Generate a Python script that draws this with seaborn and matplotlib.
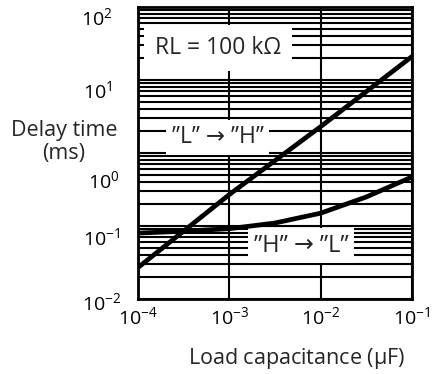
import numpy as np
import pandas as pd
import matplotlib
matplotlib.use("Agg")
import matplotlib.pyplot as plt
import matplotlib.transforms as mtransforms
import seaborn as sns
from matplotlib.ticker import LogLocator, NullFormatter

# Data
cap_lh = [1e-4, 1e-3, 1e-2, 1e-1]
delay_lh = [0.027, 0.27, 2.3, 21.0]
cap_hl = [1e-4, 3.16e-4, 1e-3, 3.16e-3, 1e-2, 3.16e-2, 1e-1]
delay_hl = [0.08, 0.085, 0.092, 0.11, 0.15, 0.25, 0.47]

x_ticks = [1e-4, 1e-3, 1e-2, 1e-1]
y_ticks = [1e-2, 1e-1, 1e0, 1e1, 1e2]

sns.set_style("white")
plt.rcParams['font.family'] = ['Open Sans', 'DejaVu Sans']
plt.rcParams['mathtext.default'] = 'regular'

df = pd.concat([
    pd.DataFrame({"cap": cap_lh, "delay": delay_lh, "dir": "LH"}),
    pd.DataFrame({"cap": cap_hl, "delay": delay_hl, "dir": "HL"}),
])

fig = plt.figure(figsize=(4.41, 3.74), dpi=100)
ax = fig.add_axes([0.313, 0.2005, 0.621, 0.7805])
ax.set_xscale("log")
ax.set_yscale("log")
sns.lineplot(data=df, x="cap", y="delay", units="dir", estimator=None,
             color="black", linewidth=3.4, ax=ax, zorder=4, legend=False)

ax.set_xlim(1e-4, 1e-1)
ax.set_ylim(1e-2, 1e2)
ax.set_xticks(x_ticks)
ax.set_yticks(y_ticks)
ax.yaxis.set_minor_locator(LogLocator(base=10, subs=np.arange(2, 10)))
ax.yaxis.set_minor_formatter(NullFormatter())
ax.xaxis.set_minor_locator(plt.NullLocator())
ax.tick_params(axis='both', which='both', length=0, labelsize=14, colors='black')
ax.tick_params(axis='x', pad=5)
ax.tick_params(axis='y', pad=13)

# y tick labels sit slightly below their grid lines in the reference
dy_px = [2, 10, 26, 9, 9]   # for 1e-2, 1e-1, 1e0, 1e1, 1e2
dx_px = [1, 0, 0, -8, -8]
for tick, dy, dx in zip(ax.yaxis.get_major_ticks(), dy_px, dx_px):
    off = mtransforms.ScaledTranslation(dx / 100, -dy / 100, fig.dpi_scale_trans)
    tick.label1.set_transform(tick.label1.get_transform() + off)

ax.set_axisbelow(True)
ax.grid(True, which='major', axis='x', color='black', linewidth=1.5)
ax.grid(True, which='both', axis='y', color='black', linewidth=1.5)
for s in ax.spines.values():
    s.set_visible(True)
    s.set_color('black')
    s.set_linewidth(2)

ax.set_xlabel("Load capacitance ($\\mu$F)", fontsize=15.5, labelpad=11)
ax.xaxis.set_label_coords(0.58, -0.16)
ax.set_ylabel("")
fig.text(0.145, 0.62, "Delay time\n(ms)", ha='center', va='center',
         fontsize=15.5, linespacing=1.15)

bb = dict(facecolor='white', edgecolor='none', pad=4)
ax.text(10**-3.12, 10**1.44, "RL = 100 kΩ", ha='center', va='center',
        fontsize=16.5, bbox=dict(facecolor='white', edgecolor='none', pad=8), zorder=3)
ax.text(10**-3.13, 10**0.22, "”L” → ”H”", ha='center', va='center',
        fontsize=16.5, bbox=bb, zorder=3)
ax.text(10**-2.21, 10**-1.27, "”H” → ”L”", ha='center', va='center',
        fontsize=17, bbox=bb, zorder=3)

fig.savefig("out.png", dpi=100)
